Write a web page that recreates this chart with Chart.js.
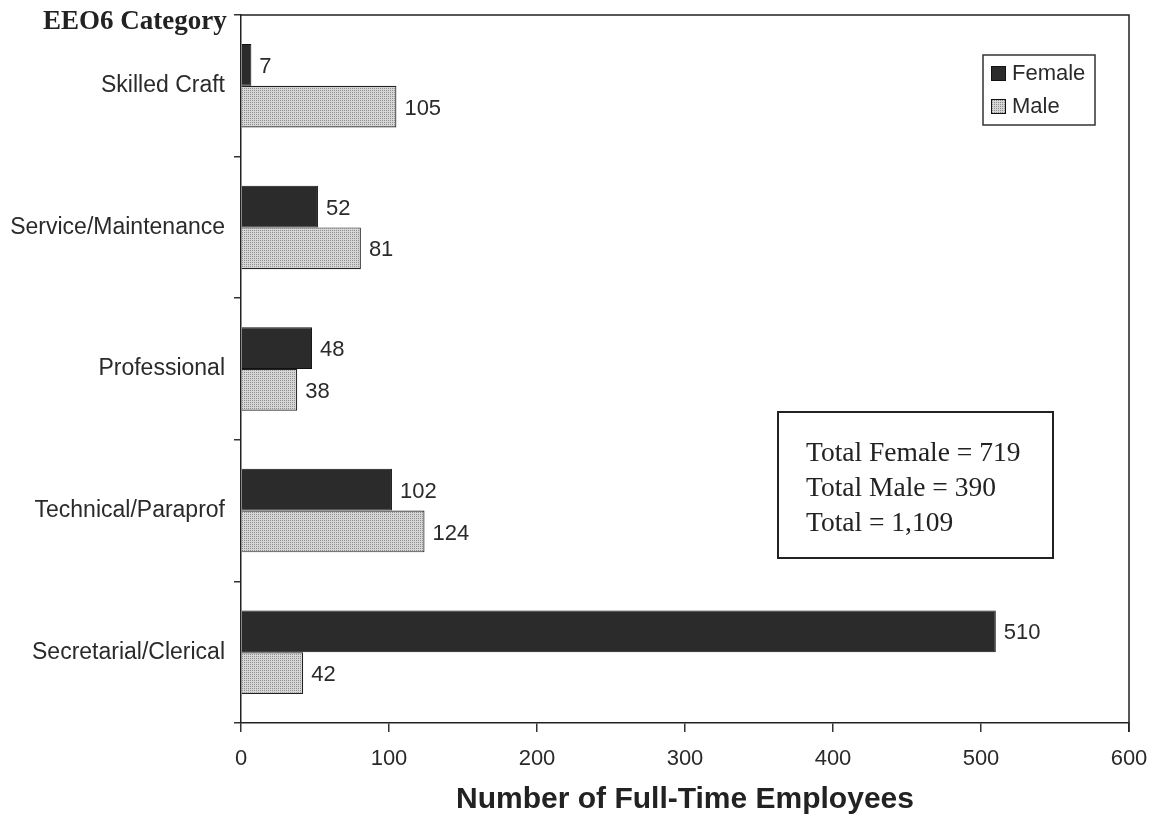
<!DOCTYPE html>
<html>
<head>
<meta charset="utf-8">
<script src="https://cdn.jsdelivr.net/npm/chart.js@4/dist/chart.umd.min.js"></script>
<style>
  html, body { margin: 0; padding: 0; background: #ffffff; }
  canvas { display: block; }
</style>
</head>
<body>
<canvas id="c" width="1154" height="821"></canvas>
<script>
// ---- data ----
const categories = ["Skilled Craft", "Service/Maintenance", "Professional", "Technical/Paraprof", "Secretarial/Clerical"];
const femaleValues = [7, 52, 48, 102, 510];
const maleValues = [105, 81, 38, 124, 42];
const seriesNames = ["Female", "Male"];
const xTicks = [0, 100, 200, 300, 400, 500, 600];
const yAxisTitle = "EEO6 Category";
const xAxisTitle = "Number of Full-Time Employees";
const totalLines = ["Total Female = 719", "Total Male = 390", "Total = 1,109"];

// ---- styles ----
const SANS = '"Liberation Sans", Arial, sans-serif';
const SERIF = '"Liberation Serif", "Times New Roman", serif';
const TEXT = '#2a2a2a';
const FEMALE_COLOR = '#2b2b2b';

function makeMalePattern() {
  const p = document.createElement('canvas');
  p.width = 2; p.height = 2;
  const g = p.getContext('2d');
  g.fillStyle = '#d6d6d6';
  g.fillRect(0, 0, 2, 2);
  g.fillStyle = '#8e8e8e';
  g.fillRect(0, 0, 1, 1);
  return document.getElementById('c').getContext('2d').createPattern(p, 'repeat');
}
const malePattern = makeMalePattern();

const extras = {
  id: 'extras',
  afterDraw(chart) {
    const ctx = chart.ctx;
    const a = chart.chartArea;
    ctx.save();
    // top and right frame
    ctx.strokeStyle = '#222';
    ctx.lineWidth = 1.5;
    ctx.beginPath();
    ctx.moveTo(a.left, a.top);
    ctx.lineTo(a.right, a.top);
    ctx.lineTo(a.right, a.bottom + 9);
    ctx.stroke();

    // data labels
    ctx.font = '22px ' + SANS;
    ctx.fillStyle = TEXT;
    ctx.textBaseline = 'middle';
    ctx.textAlign = 'left';
    chart.data.datasets.forEach((ds, i) => {
      const meta = chart.getDatasetMeta(i);
      meta.data.forEach((el, j) => {
        ctx.fillText(String(ds.data[j]), el.x + 8, el.y + 2);
      });
    });

    // y axis title
    ctx.font = 'bold 27px ' + SERIF;
    ctx.fillStyle = '#222';
    ctx.textBaseline = 'alphabetic';
    ctx.fillText(yAxisTitle, 43, 29);

    // legend
    const lx = 983, ly = 55, lw = 112, lh = 70;
    ctx.fillStyle = '#fff';
    ctx.fillRect(lx, ly, lw, lh);
    ctx.strokeStyle = '#333';
    ctx.lineWidth = 1.5;
    ctx.strokeRect(lx, ly, lw, lh);
    chart.data.datasets.forEach((ds, i) => {
      const sy = 66 + i * 33;
      ctx.fillStyle = ds.backgroundColor;
      ctx.fillRect(991, sy, 15, 15);
      ctx.strokeStyle = '#111';
      ctx.lineWidth = 1;
      ctx.strokeRect(991.5, sy + 0.5, 14, 14);
      ctx.fillStyle = TEXT;
      ctx.font = '22px ' + SANS;
      ctx.textBaseline = 'middle';
      ctx.fillText(ds.label, 1012, sy + 8);
    });

    // totals box
    ctx.strokeStyle = '#222';
    ctx.lineWidth = 2;
    ctx.strokeRect(778, 412, 275, 146);
    ctx.fillStyle = '#222';
    ctx.font = '27.5px ' + SERIF;
    ctx.textBaseline = 'alphabetic';
    totalLines.forEach((t, i) => {
      ctx.fillText(t, 806, 461 + i * 35);
    });
    ctx.restore();
  }
};

new Chart(document.getElementById('c'), {
  type: 'bar',
  data: {
    labels: categories,
    datasets: [
      { label: seriesNames[0], data: femaleValues, backgroundColor: FEMALE_COLOR, borderColor: '#111', borderWidth: 1 },
      { label: seriesNames[1], data: maleValues, backgroundColor: malePattern, borderColor: '#222', borderWidth: 1.2 }
    ]
  },
  options: {
    indexAxis: 'y',
    responsive: false,
    animation: false,
    events: [],
    layout: { padding: { top: 15, right: 25, bottom: 0, left: 0 } },
    datasets: { bar: { categoryPercentage: 0.59, barPercentage: 1.0 } },
    plugins: { legend: { display: false }, tooltip: { enabled: false } },
    scales: {
      x: {
        type: 'linear',
        min: 0, max: 600,
        afterBuildTicks(scale) { scale.ticks = xTicks.map(v => ({ value: v })); },
        afterFit(scale) {
          scale.height = 98;
          scale.paddingLeft = 0; scale.paddingRight = 0;
          scale.paddingTop = 0; scale.paddingBottom = 0;
        },
        ticks: { color: TEXT, font: { family: SANS, size: 22 }, padding: 14, maxRotation: 0 },
        grid: { drawOnChartArea: false, drawTicks: true, tickLength: 9, color: '#333', lineWidth: 1.5 },
        border: { color: '#222', width: 1.5 },
        title: { display: true, text: xAxisTitle, color: '#222', font: { family: SANS, size: 30, weight: 'bold' }, padding: { top: 0, bottom: 3 } }
      },
      y: {
        afterFit(scale) {
          scale.width = 241;
          scale.paddingTop = 0; scale.paddingBottom = 0;
          scale.paddingLeft = 0; scale.paddingRight = 0;
        },
        ticks: { color: TEXT, font: { family: SANS, size: 23 }, padding: 9 },
        grid: { drawOnChartArea: false, drawTicks: true, tickLength: 7, color: '#333', lineWidth: 1.5, offset: true },
        border: { color: '#222', width: 1.5 }
      }
    }
  },
  plugins: [extras]
});
</script>
</body>
</html>
